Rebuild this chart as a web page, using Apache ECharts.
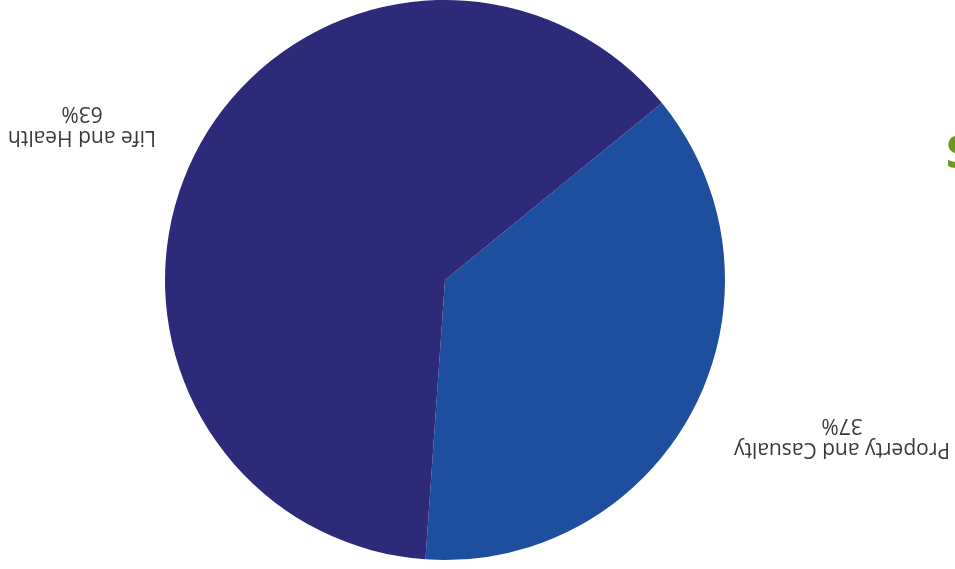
<!DOCTYPE html>
<html>
<head>
<meta charset="utf-8">
<script src="https://cdn.jsdelivr.net/npm/echarts@6/dist/echarts.min.js"></script>
<style>html,body{margin:0;padding:0;background:#fff;}#c{width:955px;height:569px;}</style>
</head>
<body>
<div id="c"></div>
<script>
const categories = ['Property and Casualty', 'Life and Health'];
const values = [37, 63];
const colors = ['#1e4f9f', '#2c2a79'];

const chart = echarts.init(document.getElementById('c'));
const labelPos = [[842, 437], [82, 125]];
chart.setOption({
  backgroundColor: '#ffffff',
  animation: false,
  series: [{
    type: 'pie',
    center: [445, 280],
    radius: 280,
    startAngle: 39.2,
    clockwise: true,
    label: { show: false },
    labelLine: { show: false },
    itemStyle: { borderWidth: 0 },
    data: categories.map((c, i) => ({ name: c, value: values[i], itemStyle: { color: colors[i] } }))
  }],
  graphic: categories.map((c, i) => ({
    type: 'text',
    x: labelPos[i][0],
    y: labelPos[i][1],
    rotation: Math.PI,
    style: {
      text: c + '\n' + values[i] + '%',
      font: '21px "Open Sans", sans-serif',
      fill: '#3a3a3a',
      align: 'center',
      verticalAlign: 'middle',
      lineHeight: 24
    }
  })).concat([{
    type: 'text',
    x: 946,
    y: 155,
    style: { text: 'S', font: 'bold 44px "Open Sans", sans-serif', fill: '#6a9a1f', verticalAlign: 'middle' }
  }])
});
</script>
</body>
</html>
